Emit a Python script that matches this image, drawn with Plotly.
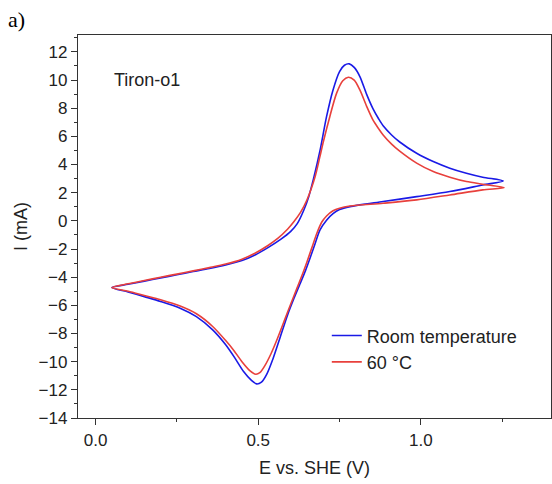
import plotly.graph_objects as go

# Room temperature CV (forward anodic scan from 0.05 V, then reverse scan)
E_rt = [0.05, 0.10, 0.15, 0.20, 0.25, 0.30, 0.35, 0.40, 0.45, 0.49, 0.53, 0.57, 0.60, 0.62,
        0.64, 0.655, 0.67, 0.69, 0.71, 0.73, 0.75, 0.765, 0.78, 0.795, 0.8125, 0.833, 0.853,
        0.87, 0.884, 0.91, 0.935, 0.987, 1.038, 1.089, 1.14, 1.19, 1.253,
        1.19, 1.089, 0.987, 0.884, 0.782, 0.75, 0.73, 0.71, 0.69, 0.675, 0.66, 0.645, 0.628,
        0.61, 0.59, 0.567, 0.546, 0.526, 0.51, 0.495, 0.48, 0.455, 0.43, 0.40, 0.36, 0.31,
        0.26, 0.20, 0.15, 0.10, 0.05]
I_rt = [-4.74, -4.5, -4.28, -4.05, -3.83, -3.6, -3.38, -3.13, -2.82, -2.42, -1.9, -1.3, -0.75, -0.2,
        0.75, 1.7, 3.0, 5.0, 7.4, 9.3, 10.6, 11.05, 11.15, 10.9, 10.25, 9.0, 7.95,
        7.25, 6.75, 6.1, 5.6, 4.8, 4.21, 3.74, 3.38, 3.1, 2.84,
        2.55, 2.08, 1.72, 1.37, 1.01, 0.8, 0.52, 0.05, -0.64, -1.6, -2.6, -3.55, -4.5,
        -5.5, -6.7, -8.3, -9.75, -10.9, -11.45, -11.58, -11.35, -10.7, -9.8, -8.8, -7.74, -6.8,
        -6.2, -5.72, -5.38, -5.05, -4.74]

# 60 °C CV
E_60 = [0.05, 0.10, 0.15, 0.20, 0.25, 0.30, 0.35, 0.40, 0.45, 0.49, 0.53, 0.56, 0.59, 0.61,
        0.63, 0.65, 0.675, 0.69, 0.70, 0.72, 0.741, 0.76, 0.777, 0.795, 0.8125, 0.833, 0.853,
        0.87, 0.884, 0.91, 0.935, 0.987, 1.038, 1.089, 1.14, 1.19, 1.256,
        1.19, 1.089, 0.987, 0.884, 0.782, 0.75, 0.73, 0.71, 0.695, 0.68, 0.665, 0.65, 0.635,
        0.618, 0.60, 0.58, 0.56, 0.54, 0.52, 0.505, 0.492, 0.475, 0.45, 0.425, 0.40, 0.36,
        0.31, 0.26, 0.20, 0.15, 0.10, 0.05]
I_60 = [-4.74, -4.47, -4.24, -4.0, -3.78, -3.55, -3.32, -3.07, -2.72, -2.3, -1.75, -1.25, -0.6, -0.05,
        0.6, 1.5, 3.15, 4.6, 5.6, 7.4, 9.07, 9.95, 10.2, 10.0, 9.3, 8.15, 7.15,
        6.55, 6.1, 5.45, 4.95, 4.1, 3.5, 3.1, 2.79, 2.6, 2.36,
        2.2, 1.84, 1.49, 1.25, 1.05, 0.9, 0.72, 0.35, -0.1, -0.9, -1.9, -2.9, -3.85,
        -4.85, -5.9, -7.1, -8.3, -9.4, -10.3, -10.78, -10.89, -10.65, -10.0, -9.2, -8.5, -7.5,
        -6.6, -6.05, -5.6, -5.3, -5.0, -4.74]

series_names = ["Room temperature", "60 °C"]
series_colors = ["#1a1ae6", "#e8403c"]

FONT = "Arial, Liberation Sans, sans-serif"

fig = go.Figure()
for name, color, xs, ys in zip(series_names, series_colors, [E_rt, E_60], [I_rt, I_60]):
    fig.add_trace(go.Scatter(x=xs, y=ys, mode="lines", name=name,
                             line=dict(color=color, width=1.6, shape="spline", smoothing=0.8)))

axis_common = dict(showline=True, mirror=True, linecolor="#333333", linewidth=1.3,
                   showgrid=False, zeroline=False, ticks="outside", ticklen=6, tickwidth=1.2,
                   tickcolor="#333333", tickfont=dict(family=FONT, size=17, color="#222222"))

fig.update_xaxes(range=[-0.054, 1.40], tick0=0, dtick=0.5, tickformat=".1f",
                 minor=dict(ticks="outside", ticklen=3, dtick=0.25, tick0=0, tickcolor="#333333"),
                 title=dict(text="E vs. SHE (V)", font=dict(family=FONT, size=18, color="#222222"),
                            standoff=12),
                 **axis_common)
fig.update_yaxes(range=[-14, 13.2], tick0=0, dtick=2,
                 minor=dict(ticks="outside", ticklen=3, dtick=1, tick0=0, tickcolor="#333333"),
                 title=dict(text="I (mA)", font=dict(family=FONT, size=18, color="#222222"),
                            standoff=6),
                 **axis_common)

fig.update_layout(
    width=552, height=484,
    margin=dict(l=78, r=1, t=35, b=66),
    paper_bgcolor="white", plot_bgcolor="white",
    showlegend=True,
    legend=dict(x=0.526, y=0.263, xanchor="left", yanchor="top",
                bgcolor="rgba(0,0,0,0)", font=dict(family=FONT, size=18, color="#222222"),
                tracegroupgap=0, itemwidth=30),
    annotations=[
        dict(text="a)", xref="paper", yref="paper", x=-(78 - 6) / 473, y=(418 - 20) / 383,
             xanchor="left", yanchor="middle", showarrow=False,
             font=dict(family="Liberation Serif, Times New Roman, serif", size=22, color="#000000")),
        dict(text="Tiron-o1", xref="paper", yref="paper", x=(112 - 78) / 473, y=(418 - 80) / 383,
             xanchor="left", yanchor="middle", showarrow=False,
             font=dict(family=FONT, size=18, color="#222222")),
    ],
)

fig.write_html("out.html")
